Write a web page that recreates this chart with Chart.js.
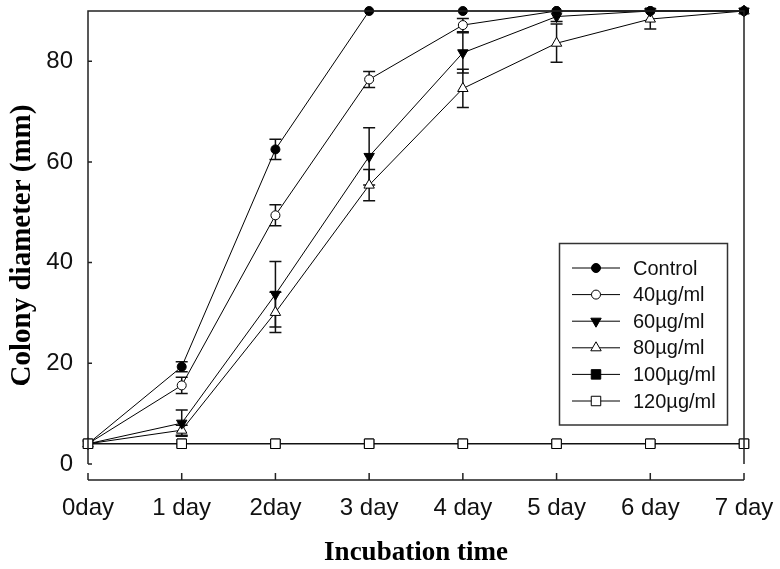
<!DOCTYPE html>
<html>
<head>
<meta charset="utf-8">
<script src="https://cdn.jsdelivr.net/npm/chart.js@4.4.1/dist/chart.umd.min.js"></script>
<style>
  html, body { margin: 0; padding: 0; background: #fff; }
  #wrap { width: 780px; height: 569px; }
</style>
</head>
<body>
<div id="wrap"><canvas id="growthChart" width="780" height="569"></canvas></div>
<script>
// values (colony diameter, mm)
const days = ['0day', '1 day', '2day', '3 day', '4 day', '5 day', '6 day', '7 day'];
const yTicks = [0, 20, 40, 60, 80];

const control = [4, 19.3, 62.5, 90, 90, 90, 90, 90];
const control_err = [0, 1.0, 2.0, 0, 0, 0, 0, 0];
const c40 = [4, 15.6, 49.4, 76.4, 87.2, 90, 90, 90];
const c40_err = [0, 1.6, 2.1, 1.6, 1.3, 0, 0, 0];
const c60 = [4, 8.1, 33.7, 61.1, 81.7, 88.9, 90, 90];
const c60_err = [0, 2.6, 6.5, 5.7, 4.0, 1.0, 0, 0];
const c80 = [4, 6.7, 30.1, 55.4, 74.6, 83.6, 88.4, 90];
const c80_err = [0, 1.0, 4.0, 3.1, 3.8, 3.8, 2.0, 0];
const c100 = [4, 4, 4, 4, 4, 4, 4, 4];
const c120 = [4, 4, 4, 4, 4, 4, 4, 4];

const sans = "'Liberation Sans', Arial, sans-serif";
const serif = "'Liberation Serif', 'Times New Roman', serif";

function series(label, data, err, style, filled, extra) {
    return Object.assign({
        label: label,
        data: data,
        err: err,
        borderColor: '#000',
        borderWidth: 1,
        pointStyle: style,
        pointBackgroundColor: filled ? '#000' : '#fff',
        pointBorderColor: '#000',
        pointBorderWidth: 1,
        pointRadius: style === 'circle' ? 4.5 : (style === 'rect' ? 6.7 : 6),
        tension: 0,
        fill: false
    }, extra || {});
}

// frame, inward ticks and detached x axis
const framePlugin = {
    id: 'frame',
    afterDraw(chart) {
        const {ctx, chartArea, scales: {x, y}} = chart;
        const x0 = x.getPixelForValue(0), x7 = x.getPixelForValue(7);
        const yTop = y.getPixelForValue(90), yZero = y.getPixelForValue(0);
        const yb = chartArea.bottom;
        ctx.save();
        ctx.strokeStyle = '#222';
        ctx.lineWidth = 1.5;
        ctx.beginPath();
        ctx.moveTo(x0, yZero); ctx.lineTo(x0, yTop); ctx.lineTo(x7, yTop); ctx.lineTo(x7, yZero);
        yTicks.forEach(v => {
            const py = y.getPixelForValue(v);
            ctx.moveTo(x0, py); ctx.lineTo(x0 + 4, py);
        });
        ctx.moveTo(x0, yb); ctx.lineTo(x7, yb);
        days.forEach((d, i) => {
            const px = x.getPixelForValue(i);
            ctx.moveTo(px, yb); ctx.lineTo(px, yb - 7);
        });
        ctx.stroke();

        // legend
        const bx = 559.5, by = 243.5, bw = 168, bh = 181.5;
        ctx.lineWidth = 1.5;
        ctx.strokeStyle = '#333';
        ctx.fillStyle = '#fff';
        ctx.fillRect(bx, by, bw, bh);
        ctx.strokeRect(bx, by, bw, bh);
        ctx.font = '20px ' + sans;
        ctx.textBaseline = 'middle';
        ctx.textAlign = 'left';
        chart.data.datasets.forEach((ds, i) => {
            const ly = 268 + i * 26.6;
            ctx.strokeStyle = '#000';
            ctx.lineWidth = 1;
            ctx.beginPath();
            ctx.moveTo(572, ly); ctx.lineTo(620, ly);
            ctx.stroke();
            ctx.fillStyle = ds.pointBackgroundColor;
            ctx.strokeStyle = '#000';
            Chart.helpers.drawPoint(ctx, {
                pointStyle: ds.pointStyle,
                radius: ds.pointRadius,
                rotation: ds.pointRotation || 0,
                borderWidth: 1
            }, 596, ly);
            ctx.fillStyle = '#111';
            ctx.fillText(ds.label, 633, ly + 1);
        });
        ctx.restore();
    }
};

// error bars, drawn under the markers
const errorBarPlugin = {
    id: 'errorBars',
    beforeDatasetsDraw(chart) {
        const {ctx, scales: {y}} = chart;
        ctx.save();
        ctx.strokeStyle = '#111';
        ctx.lineWidth = 1.5;
        chart.data.datasets.forEach((ds, di) => {
            const meta = chart.getDatasetMeta(di);
            ds.data.forEach((v, i) => {
                const e = ds.err[i];
                if (!e) return;
                const px = meta.data[i].x;
                const top = y.getPixelForValue(v + e);
                const bot = y.getPixelForValue(v - e);
                ctx.beginPath();
                ctx.moveTo(px, top); ctx.lineTo(px, bot);
                ctx.moveTo(px - 6, top); ctx.lineTo(px + 6, top);
                ctx.moveTo(px - 6, bot); ctx.lineTo(px + 6, bot);
                ctx.stroke();
            });
        });
        ctx.restore();
    }
};

new Chart(document.getElementById('growthChart'), {
    type: 'line',
    data: {
        labels: days,
        datasets: [
            series('Control', control, control_err, 'circle', true),
            series('40\u00b5g/ml', c40, c40_err, 'circle', false),
            series('60\u00b5g/ml', c60, c60_err, 'triangle', true, {pointRotation: 180}),
            series('80\u00b5g/ml', c80, c80_err, 'triangle', false),
            series('100\u00b5g/ml', c100, [0, 0, 0, 0, 0, 0, 0, 0], 'rect', true),
            series('120\u00b5g/ml', c120, [0, 0, 0, 0, 0, 0, 0, 0], 'rect', false, {order: -1})
        ]
    },
    options: {
        responsive: false,
        animation: false,
        clip: false,
        layout: { padding: { left: 0, right: 36, top: 11, bottom: 0 } },
        plugins: {
            legend: { display: false },
            tooltip: { enabled: false }
        },
        scales: {
            x: {
                type: 'category',
                offset: false,
                grid: { display: false, drawTicks: false },
                border: { display: false },
                ticks: { color: '#111', font: { family: sans, size: 24 }, padding: 14, maxRotation: 0, autoSkip: false },
                title: { display: true, text: 'Incubation time', color: '#000', font: { family: serif, size: 27, weight: 'bold' }, padding: { top: 0, bottom: 0 } },
                afterFit(scale) {
                    scale.height = 89;
                    scale.paddingLeft = 0; scale.paddingRight = 0;
                }
            },
            y: {
                type: 'linear',
                min: -3.2,
                max: 90,
                grid: { display: false, drawTicks: false },
                border: { display: false },
                ticks: { color: '#111', font: { family: sans, size: 24 }, padding: 15 },
                afterBuildTicks(scale) {
                    scale.ticks = yTicks.map(v => ({ value: v }));
                },
                title: { display: true, text: 'Colony diameter (mm)', color: '#000', font: { family: serif, size: 29, weight: 'bold' }, padding: { top: 5, bottom: 0 } },
                afterFit(scale) {
                    scale.width = 88;
                    scale.paddingTop = 0; scale.paddingBottom = 0;
                }
            }
        }
    },
    plugins: [errorBarPlugin, framePlugin]
});
</script>
</body>
</html>
